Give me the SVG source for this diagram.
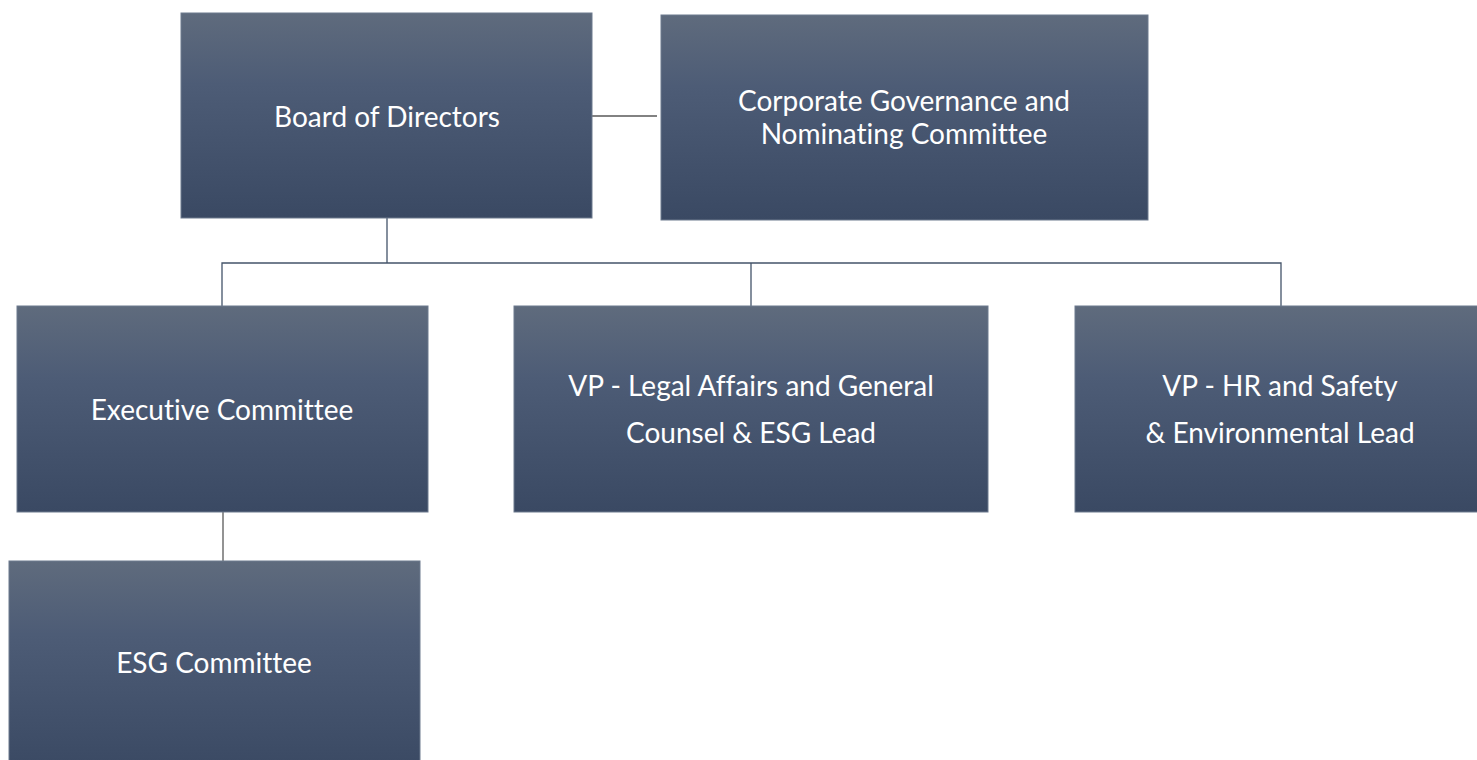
<svg xmlns="http://www.w3.org/2000/svg" width="1477" height="760" viewBox="0 0 1477 760">
<defs>
<linearGradient id="g" x1="0" y1="0" x2="0" y2="1">
<stop offset="0" stop-color="#5f6b7d"/>
<stop offset="0.35" stop-color="#4d5c76"/>
<stop offset="1" stop-color="#3a4963"/>
</linearGradient>
<style>
.box{fill:url(#g);stroke:#6d7a8e;stroke-width:1}
.t{font-family:Lato,"Open Sans",sans-serif;font-size:28px;fill:#ffffff;text-anchor:middle;dominant-baseline:central;font-variant-ligatures:none;font-feature-settings:"liga" 0}
.c{fill:none;stroke:#44546a;stroke-width:1.3}
</style>
</defs>
<rect width="1477" height="760" fill="#ffffff"/>
<g id="connectors">
<path class="c" d="M387,218 V263 M222,306 V263 H1281 V306 M751,263 V306"/>
<path class="c" style="stroke:#595959" d="M592,116 H657"/>
<path class="c" style="stroke:#595959" d="M223,512 V561"/>
</g>
<g id="board">
<rect class="box" x="181" y="13" width="411" height="205"/>
<text class="t" x="387" y="116">Board of Directors</text>
</g>
<g id="cgnc">
<rect class="box" x="661" y="15" width="487" height="205"/>
<text class="t" x="904" y="100">Corporate Governance and</text>
<text class="t" x="904" y="133">Nominating Committee</text>
</g>
<g id="exec">
<rect class="box" x="17" y="306" width="411" height="206"/>
<text class="t" x="222" y="409">Executive Committee</text>
</g>
<g id="legal">
<rect class="box" x="514" y="306" width="474" height="206"/>
<text class="t" x="751" y="385">VP - Legal Affairs and General</text>
<text class="t" x="751" y="432">Counsel &amp; ESG Lead</text>
</g>
<g id="hr">
<rect class="box" x="1075" y="306" width="410" height="206"/>
<text class="t" x="1280" y="385">VP - HR and Safety</text>
<text class="t" x="1280" y="432">&amp; Environmental Lead</text>
</g>
<g id="esg">
<rect class="box" x="9" y="561" width="411" height="210"/>
<text class="t" x="214" y="662">ESG Committee</text>
</g>
</svg>
